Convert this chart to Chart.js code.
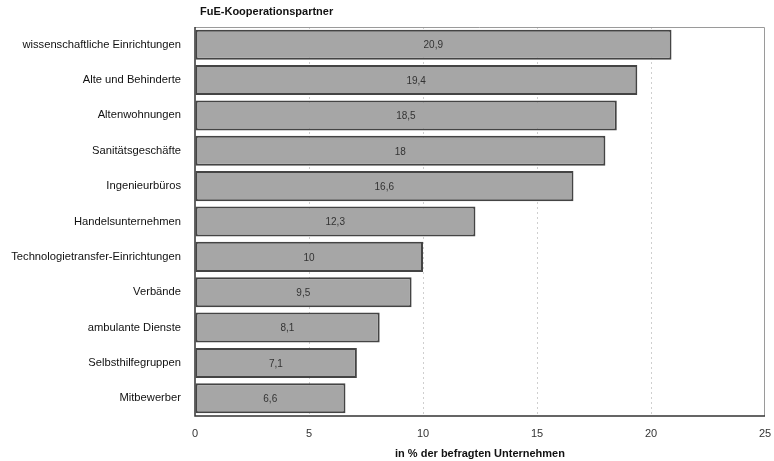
<!DOCTYPE html>
<html>
<head>
<meta charset="utf-8">
<script src="https://cdn.jsdelivr.net/npm/chart.js@4.4.7/dist/chart.umd.min.js"></script>
<style>
    html, body { margin: 0; padding: 0; background: #ffffff; }
    #wrap { width: 774px; height: 461px; }
</style>
</head>
<body>
<div id="wrap"><canvas id="bars" width="774" height="461"></canvas></div>
<script>

// Data.
var partners = [
    "wissenschaftliche Einrichtungen",
    "Alte und Behinderte",
    "Altenwohnungen",
    "Sanitätsgeschäfte",
    "Ingenieurbüros",
    "Handelsunternehmen",
    "Technologietransfer-Einrichtungen",
    "Verbände",
    "ambulante Dienste",
    "Selbsthilfegruppen",
    "Mitbewerber"
];
var shares = [20.9, 19.4, 18.5, 18, 16.6, 12.3, 10, 9.5, 8.1, 7.1, 6.6];
var xTicks = [0, 5, 10, 15, 20, 25];

var chartTitle = "FuE-Kooperationspartner";
var axisTitle = "in % der befragten Unternehmen";

/*
 * Plugin: draws the frame, the value in each bar and the title above the plot.
 */
var decorPlugin = {
    id: 'decor',
    afterDatasetsDraw: function(chart) {
        var ctx = chart.ctx;
        var a = chart.chartArea;

        // Frame round the plot area.
        ctx.save();
        ctx.strokeStyle = '#9a9a9a';
        ctx.lineWidth = 1;
        ctx.beginPath();
        ctx.moveTo(a.left, a.top + 0.5);
        ctx.lineTo(a.right - 0.5, a.top + 0.5);
        ctx.lineTo(a.right - 0.5, a.bottom);
        ctx.stroke();

        // Axis lines, left and bottom.
        ctx.strokeStyle = '#333333';
        ctx.lineWidth = 1.5;
        ctx.beginPath();
        ctx.moveTo(a.left, a.top);
        ctx.lineTo(a.left, a.bottom);
        ctx.lineTo(a.right, a.bottom);
        ctx.stroke();

        // Value labels in the middle of the bars.
        var meta = chart.getDatasetMeta(0);
        var xs = chart.scales.x;
        ctx.font = '10px "Liberation Sans", Arial, sans-serif';
        ctx.fillStyle = '#333333';
        ctx.textAlign = 'center';
        ctx.textBaseline = 'middle';
        meta.data.forEach(function(bar, i) {
            var mid = (xs.getPixelForValue(0) + bar.x) / 2;
            ctx.fillText(String(shares[i]).replace('.', ','), mid, bar.y + 1);
        });

        // Title.
        ctx.font = 'bold 11px "Liberation Sans", Arial, sans-serif';
        ctx.fillStyle = '#111111';
        ctx.textAlign = 'left';
        ctx.textBaseline = 'middle';
        ctx.fillText(chartTitle, a.left + 5, 12);
        ctx.restore();
    }
};

var data = {
    labels: partners,
    datasets: [{
        data: shares,
        backgroundColor: '#a6a6a6',
        borderColor: '#444444',
        borderWidth: 2,
        borderSkipped: false,
        categoryPercentage: 1.0,
        barPercentage: 0.85
    }]
};

var options = {
    indexAxis: 'y',
    responsive: false,
    animation: false,
    layout: {
        padding: { top: 27, right: 0, left: 0, bottom: 0 }
    },
    plugins: {
        legend: { display: false },
        tooltip: { enabled: false },
        title: { display: false }
    },
    scales: {
        x: {
            min: 0,
            max: 25,
            afterBuildTicks: function(s) {
                s.ticks = xTicks.map(function(v) { return { value: v }; });
            },
            afterFit: function(s) {
                s.height = 45;
                s.paddingRight = 9;
            },
            grid: {
                display: true,
                drawTicks: false,
                color: function(c) {
                    return (c.tick && c.tick.value > 0 && c.tick.value < 25) ? '#cfcfcf' : 'rgba(0,0,0,0)';
                },
                lineWidth: 1
            },
            // Dotted vertical grid lines.
            border: { display: false, dash: [2, 3] },
            ticks: {
                padding: 11,
                color: '#333333',
                font: { family: '"Liberation Sans", Arial, sans-serif', size: 11 }
            },
            title: {
                display: true,
                text: axisTitle,
                color: '#111111',
                padding: { top: 0, bottom: 0 },
                font: { family: '"Liberation Sans", Arial, sans-serif', size: 11, weight: 'bold' }
            }
        },
        y: {
            grid: { display: false },
            border: { display: false },
            afterFit: function(s) { s.width = 195; },
            ticks: {
                padding: 6,
                color: '#111111',
                font: { family: '"Liberation Sans", Arial, sans-serif', size: 11.2 }
            }
        }
    }
};

var bars = new Chart(document.getElementById('bars'), {
    type: 'bar',
    data: data,
    options: options,
    plugins: [decorPlugin]
});
</script>
</body>
</html>
